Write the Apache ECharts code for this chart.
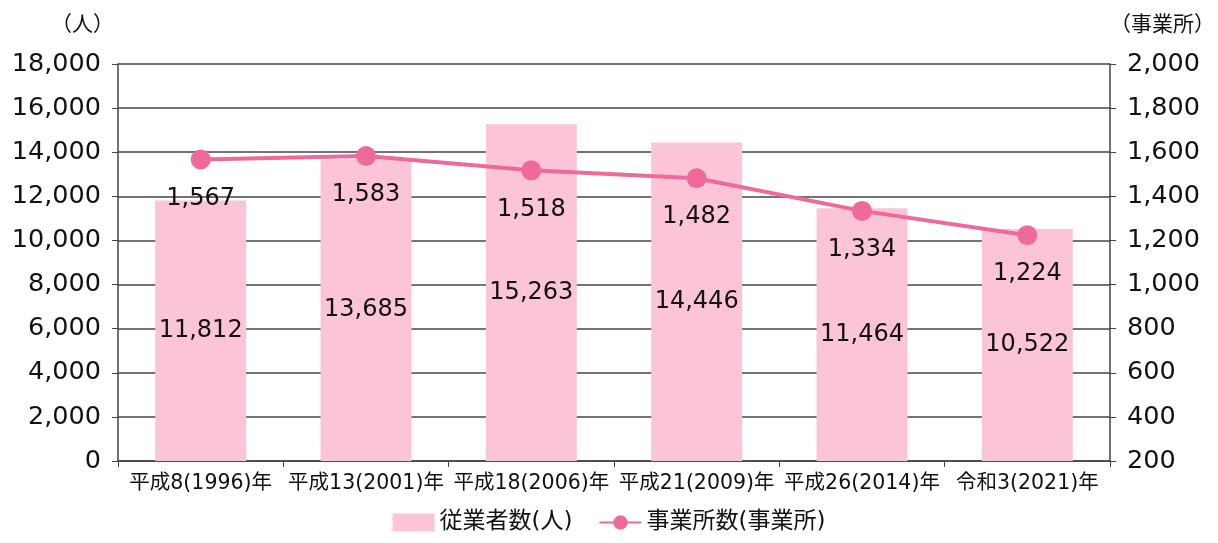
<!DOCTYPE html>
<html>
<head>
<meta charset="utf-8">
<script src="https://cdn.jsdelivr.net/npm/echarts@6/dist/echarts.min.js"></script>
<style>
  html, body { margin: 0; padding: 0; background: #fff; }
  #main { width: 1218px; height: 543px; }
</style>
</head>
<body>
<div id="main"></div>
<script>
// 年次
var years = ['平成8(1996)年', '平成13(2001)年', '平成18(2006)年', '平成21(2009)年', '平成26(2014)年', '令和3(2021)年'];
// 従業者数(人)
var workers = [11812, 13685, 15263, 14446, 11464, 10522];
// 事業所数(事業所)
var offices = [1567, 1583, 1518, 1482, 1334, 1224];

// 数字は幅広のDejaVu、日本語はNoto CJK
var font = '"DejaVu Sans", "Noto Sans CJK JP", sans-serif';
var fmt = function (v) { return Number(v).toLocaleString('en-US'); };

var chart = echarts.init(document.getElementById('main'));
chart.setOption({
    textStyle: { fontFamily: font, color: '#111' },
    animation: false,
    legend: {
        bottom: 4,
        left: 'center',
        itemGap: 26,
        itemWidth: 42,
        itemHeight: 18,
        textStyle: { fontSize: 23, color: '#111', fontFamily: font },
        data: [
            { name: '従業者数(人)', icon: 'rect' },
            { name: '事業所数(事業所)' }
        ]
    },
    grid: { left: 118, right: 108, top: 64, bottom: 82 },
    xAxis: {
        type: 'category',
        data: years,
        axisLine: { lineStyle: { color: '#444', width: 1.5 } },
        axisTick: { show: true, length: 6, lineStyle: { color: '#444' } },
        axisLabel: { fontSize: 20.5, color: '#111', margin: 12, interval: 0 }
    },
    yAxis: [
        {
            type: 'value',
            min: 0, max: 18000, interval: 2000,
            name: '（人）',
            nameLocation: 'end',
            nameGap: 28,
            nameTextStyle: { fontSize: 21, color: '#111', align: 'right', padding: [0, 4, 0, 0] },
            axisLine: { show: true, lineStyle: { color: '#444', width: 1.5 } },
            axisTick: { show: true, length: 6, lineStyle: { color: '#444' } },
            splitLine: { lineStyle: { color: '#444', width: 1.5 } },
            axisLabel: { fontSize: 25.5, color: '#111', margin: 17, formatter: fmt }
        },
        {
            type: 'value',
            min: 200, max: 2000, interval: 200,
            name: '（事業所）',
            nameLocation: 'end',
            nameGap: 28,
            nameTextStyle: { fontSize: 21, color: '#111', align: 'left', padding: [0, 0, 0, 0] },
            axisLine: { show: true, lineStyle: { color: '#444', width: 1.5 } },
            axisTick: { show: true, length: 6, lineStyle: { color: '#444' } },
            splitLine: { show: false },
            axisLabel: { fontSize: 25.5, color: '#111', margin: 17, formatter: fmt }
        }
    ],
    series: [
        {
            name: '従業者数(人)',
            type: 'bar',
            data: workers,
            barWidth: '55%',
            itemStyle: { color: '#fcc4d7' },
            label: {
                show: true,
                position: 'inside',
                fontSize: 24,
                color: '#111',
                formatter: function (p) { return fmt(p.value); }
            }
        },
        {
            name: '事業所数(事業所)',
            type: 'line',
            yAxisIndex: 1,
            data: offices,
            symbol: 'circle',
            symbolSize: 20,
            lineStyle: { color: '#ef6a9b', width: 4 },
            itemStyle: { color: '#ef6a9b' },
            label: {
                show: true,
                position: 'bottom',
                distance: 17,
                fontSize: 24,
                color: '#111',
                formatter: function (p) { return fmt(p.value); }
            }
        }
    ]
});
</script>
</body>
</html>
